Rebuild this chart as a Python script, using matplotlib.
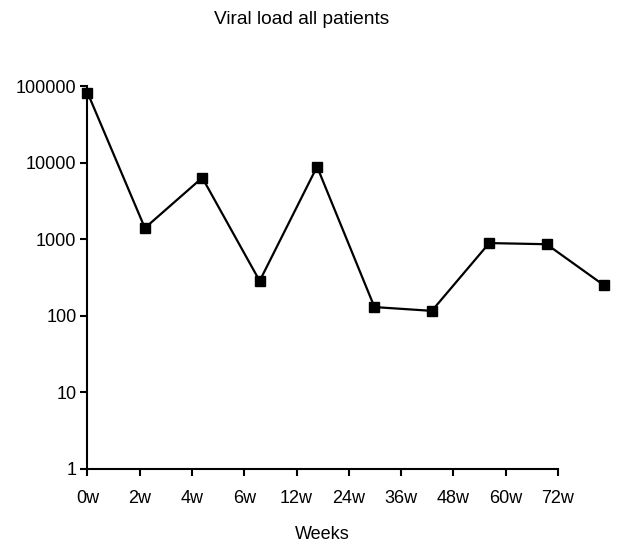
import numpy as np
import matplotlib
matplotlib.use("Agg")
import matplotlib.pyplot as plt
from matplotlib.ticker import FixedLocator, NullLocator

plt.rcParams['font.family'] = ['Liberation Sans', 'DejaVu Sans']

# data
weeks = ['0w', '2w', '4w', '6w', '12w', '24w', '36w', '48w', '60w', '72w']
viral_load = [82000, 1400, 6350, 285, 8850, 130, 116, 890, 860, 250]
y_ticks = [1, 10, 100, 1000, 10000, 100000]

fig = plt.figure(figsize=(6.34, 5.43), dpi=100)
ax = fig.add_axes([0.138, 0.1363, 0.8147, 0.7053])

x = np.arange(len(weeks))
ax.plot(x, viral_load, color='black', linewidth=1.6, marker='s',
        markersize=7, clip_on=False)

# in the original the category axis is shorter than the plotted line
tick_scale = (557 - 87) / (604 - 88)
tick_pos = x * tick_scale

ax.set_yscale('log')
ax.set_ylim(1, 100000)
ax.set_xlim(0, len(weeks) - 1)
ax.yaxis.set_major_locator(FixedLocator(y_ticks))
ax.yaxis.set_minor_locator(NullLocator())
ax.set_yticklabels([str(v) for v in y_ticks])
ax.set_xticks(tick_pos)
ax.set_xticklabels(weeks)

for s in ['top', 'right']:
    ax.spines[s].set_visible(False)
for s in ['left', 'bottom']:
    ax.spines[s].set_linewidth(1.5)
ax.spines['bottom'].set_bounds(0, tick_pos[-1])
ax.tick_params(direction='out', length=5, width=1.5, labelsize=13)
ax.tick_params(axis='x', pad=10)
ax.tick_params(axis='y', pad=3)

ax.set_xlabel('Weeks', fontsize=13)
# centre the label under the tick span, not the whole axes
ax.xaxis.set_label_coords(tick_pos[-1] / 2 / (len(weeks) - 1), -0.148)
fig.text(0.476, 0.965, 'Viral load all patients', ha='center', va='center', fontsize=13.8)

fig.savefig('out.png', dpi=100, facecolor='white')
